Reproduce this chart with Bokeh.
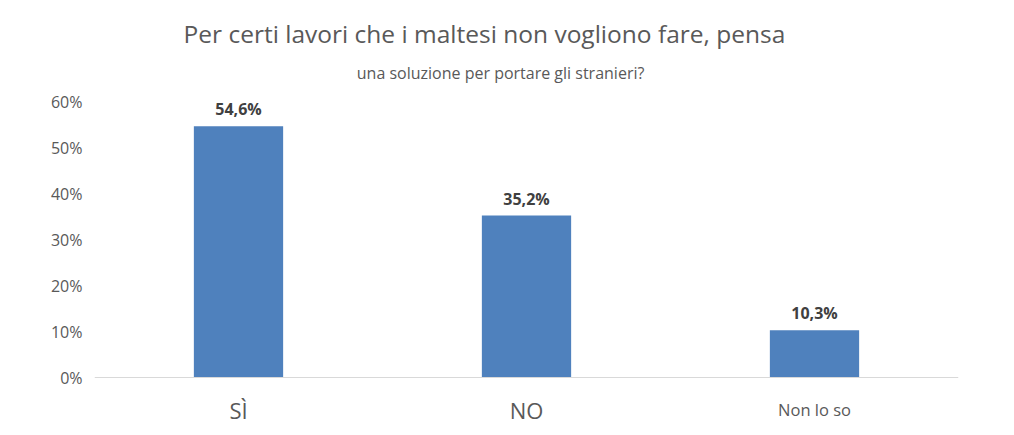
from bokeh.plotting import figure
from bokeh.models import ColumnDataSource, FactorRange, Range1d, FixedTicker, Span, Label
from bokeh.core.properties import value
from bokeh.embed import file_html
from bokeh.resources import INLINE

# ---- data ----
categories = ["SÌ", "NO", "Non lo so"]
percentages = [54.6, 35.2, 10.3]
y_ticks = [0, 10, 20, 30, 40, 50, 60]
title_text = "Per certi lavori che i maltesi non vogliono fare, pensa"
subtitle_text = "una soluzione per portare gli stranieri?"

# ---- styles ----
FONT = "Open Sans"
BAR_COLOR = "#4F81BD"
TEXT_GREY = "#595959"
LABEL_GREY = "#404040"
cat_font_sizes = ["22px", "22px", "16.5px"]

vals = [v / 100 for v in percentages]
src = ColumnDataSource(dict(
    cat=categories,
    val=vals,
    lbl=[f"{v:.1f}%".replace(".", ",") for v in percentages],
    fs=cat_font_sizes,
    zero=[0.0] * len(categories),
))

p = figure(
    width=1006, height=430,
    x_range=FactorRange(*categories, range_padding=0),
    y_range=Range1d(-0.1152, 0.8196),
    output_backend="svg", toolbar_location=None,
    min_border_left=94, min_border_right=48, min_border_top=0, min_border_bottom=0,
)
p.outline_line_color = None
p.background_fill_color = "white"
p.border_fill_color = "white"
p.xgrid.visible = False
p.ygrid.visible = False
p.xaxis.visible = False

yax = p.yaxis[0]
yax.ticker = FixedTicker(ticks=[t / 100 for t in y_ticks])
yax.major_label_overrides = {t / 100: f"{t}%" for t in y_ticks}
yax.axis_line_color = None
yax.major_tick_line_color = None
yax.minor_tick_line_color = None
yax.major_tick_in = 0
yax.major_tick_out = 0
yax.major_label_standoff = 12
yax.major_label_text_font = FONT
yax.major_label_text_font_size = "16px"
yax.major_label_text_color = TEXT_GREY

# baseline
p.add_layout(Span(location=0, dimension="width", line_color="#d9d9d9", line_width=1))

p.vbar(x="cat", top="val", width=0.31, bottom=0, source=src,
       fill_color=BAR_COLOR, line_color=None)

# value labels
p.text(x="cat", y="val", text="lbl", source=src, text_align="center",
       text_baseline="alphabetic", y_offset=-17, text_font=value(FONT),
       text_font_size="16px", text_font_style="bold", text_color=LABEL_GREY)

# category labels
p.text(x="cat", y="zero", text="cat", source=src, text_align="center",
       text_baseline="alphabetic", y_offset=32, text_font=value(FONT),
       text_font_size="fs", text_color=TEXT_GREY)

# title / subtitle
p.add_layout(Label(x=1.354, y=0.6, y_offset=68, text=title_text, text_align="center",
                   text_baseline="alphabetic", text_font=FONT, text_font_size="24.5px",
                   text_color=TEXT_GREY))
p.add_layout(Label(x=1.41, y=0.6, y_offset=29, text=subtitle_text, text_align="center",
                   text_baseline="alphabetic", text_font=FONT, text_font_size="16px",
                   text_color=TEXT_GREY))

open("out.html", "w").write(file_html(p, INLINE))
